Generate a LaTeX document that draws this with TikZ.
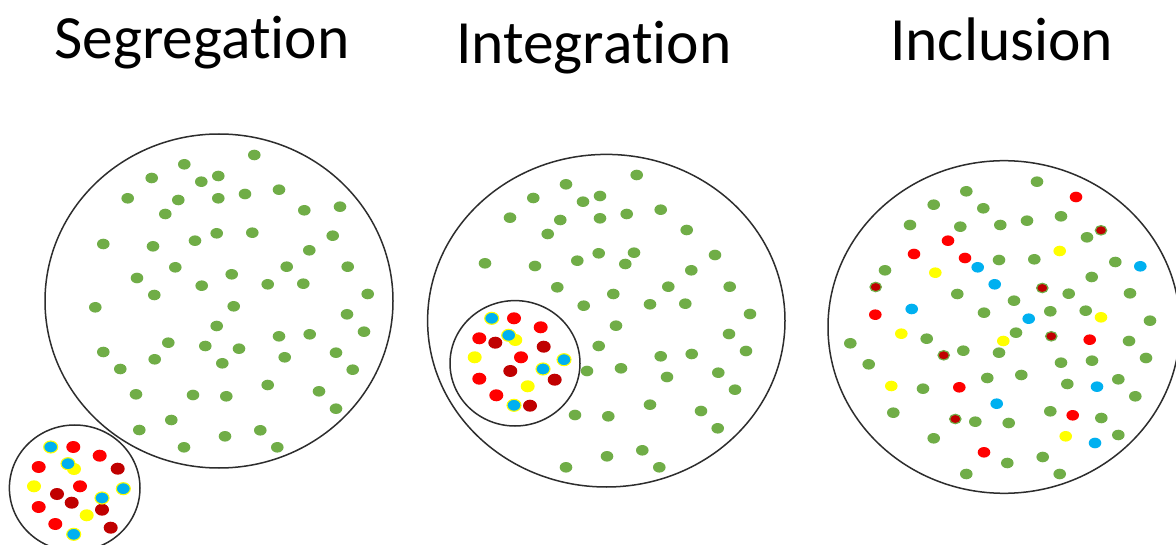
\documentclass[tikz,border=0pt]{standalone}
\usepackage{fontspec}
\setmainfont[Ligatures=NoCommon]{Carlito}
\definecolor{pgreen}{RGB}{112,173,71}
\definecolor{pred}{RGB}{255,0,0}
\definecolor{pdark}{RGB}{192,0,0}
\definecolor{pyellow}{RGB}{255,255,0}
\definecolor{pcyan}{RGB}{0,176,240}
\definecolor{rim}{RGB}{45,45,45}
\tikzset{
  title/.style={font=\fontsize{61.5}{70}\selectfont, inner sep=0pt, anchor=base west},
  group/.style={draw=rim, line width=1.5pt, fill=white},
}
% a small filled ellipse ("person") at a given point
\newcommand{\person}[3][]{\fill[#2,#1] #3 ellipse [x radius=6.3pt, y radius=5.3pt];}
\newcommand{\bigperson}[3][]{\path[fill=#2,#1] #3 ellipse [x radius=7pt, y radius=6pt];}
\begin{document}
\begin{tikzpicture}[x=1pt,y=-1pt]
\useasboundingbox (0,0) rectangle (1176,545);
\clip (0,0) rectangle (1176,545);
\fill[white] (0,0) rectangle (1176,545);

% titles
\node[title] (tseg) at (54,58.5) {Segregation};
\node[title] (tint) at (456,63.5) {Integration};
\node[title] (tinc) at (890,61) {Inclusion};

% ---------- Segregation ----------
\draw[group] (219,301) ellipse [x radius=174pt, y radius=167pt];
\foreach \p in {(254.3,155),(184.3,164.3),(151.7,178),(201.3,181.7),(218.3,176),
  (127.7,198.3),(178.3,200),(218.3,198.3),(245,194),(279,189.7),(165.3,214),
  (304.3,210.3),(340,206.7),(103.3,244),(153,246.3),(195,240.7),(216.7,233.3),
  (252.3,232.7),(332.7,235.7),(309.3,250.3),(175.3,267.3),(137,278),(231.7,274.3),
  (201.7,285.7),(286.7,266.7),(267.7,284.3),(303.3,283.7),(347.7,266.7),(154.3,295),
  (367.7,294),(95.3,307.3),(233.7,306.3),(347,314.3),(216.7,326),(364,331.7),
  (103.3,352),(168.3,342.7),(205.3,346),(239,348.7),(279,336.3),(309.7,334.3),
  (336,352.7),(154.7,359.3),(222.3,363.3),(284.7,357.3),(120.3,369),(352.7,369.7),
  (267.7,385),(136,394.3),(193,395),(226.3,396.3),(319,391.3),(336,408.7),
  (171.3,420),(139.3,430),(225,436.3),(260.3,430.3),(184,447.3),(277.3,447.3)}
  {\person{pgreen}{\p}}

\draw[group] (74.7,488) ellipse [x radius=65.3pt, y radius=63pt];
\foreach \p in {(73.3,447),(99.7,455.7),(38.7,467),(80,486.3),(38.7,507),(55.3,524)}
  {\bigperson{pred}{\p}}
\foreach \p in {(117.7,468.7),(57,494),(71.7,502.7),(102,509.7),(110.7,527.7)}
  {\bigperson{pdark}{\p}}
\foreach \p in {(74,469),(34,486.3),(86.7,515.3)}
  {\bigperson{pyellow}{\p}}
\foreach \p in {(50.7,447),(68,463.7),(123.3,488.7),(102,498),(73.7,534.3)}
  {\bigperson[draw=pyellow,line width=1.1pt]{pcyan}{\p}}

% ---------- Integration ----------
\draw[group] (606.3,320.7) ellipse [x radius=178.7pt, y radius=166.3pt];
\foreach \p in {(636.7,175),(566,184.3),(533.3,198),(583,201.7),(600,196),
  (510,217.7),(560.3,220),(600,218.3),(626.7,214),(660.7,209.7),(547.7,234),
  (686.7,230),(485,263.3),(535,266),(577.3,260.7),(598.7,253.3),(634,252.7),
  (625.3,264),(715,255),(691.3,270.3),(557.3,287.3),(613.3,294),(583.7,305.7),
  (668.3,286.7),(650,304.3),(685.3,303.7),(729.7,286.7),(750,314),(616,325.7),
  (729,334),(598.7,346),(746,351),(587,371),(621,368.3),(660.7,356.3),
  (691.7,354),(718.3,372.7),(667,377),(735,389.7),(650,404.7),(575,415),
  (608.3,416.3),(701,411),(717.7,428.3),(607,456.3),(642.3,450.3),(566,467.3),
  (659.3,467.3)}
  {\person{pgreen}{\p}}

\draw[group] (515,363.3) ellipse [x radius=65pt, y radius=62.7pt];
\foreach \p in {(514,318.3),(540.7,327.3),(479.3,338.3),(521,357.3),(479.3,378.7),(496.3,395.3)}
  {\bigperson{pred}{\p}}
\foreach \p in {(495.3,342.7),(543.7,346.7),(510.3,371),(554.7,379.7),(530,405.7)}
  {\bigperson{pdark}{\p}}
\foreach \p in {(515.3,340),(474.7,357.3),(527.7,386.3)}
  {\bigperson{pyellow}{\p}}
\foreach \p in {(491.7,318.3),(508.7,335.3),(564,359.7),(543,369),(514,405.3)}
  {\bigperson[draw=pyellow,line width=1.1pt]{pcyan}{\p}}

% ---------- Inclusion ----------
\draw[group] (1004,327) ellipse [x radius=176pt, y radius=166.3pt];
\foreach \p in {(1037,181.7),(966.3,191.3),(933.7,204.7),(983.3,208.3),(910,225),
  (960.3,226.7),(1000.3,225),(1027,220.7),(1061,216.3),(1087,237.3),(999,260),
  (1034.3,259.3),(1115.3,262),(885,270.3),(1091.7,277),(957.3,294),(1014,300.7),
  (1068.7,293.7),(1130,293.3),(984,312.7),(1050.3,311.3),(1085.7,310.7),(1150,320.7),
  (850.3,343.3),(926.7,338.7),(1016,332.7),(1129,341),(868.7,364.3),(963.3,350.7),
  (999,352.7),(1061,362.7),(1092,360.7),(1146,358),(923,388.7),(987.3,378),
  (1021.3,375),(1067.3,384),(1118.3,379.3),(1135.3,396.3),(893.3,412.7),
  (975.3,421.7),(1008.7,423),(1050.3,411.3),(1101.3,418),(933.7,438.3),
  (1118.3,435),(1007.3,463),(1042.7,457),(966.3,474),(1059.7,474)}
  {\person{pgreen}{\p}}
\foreach \p in {(1076,197),(948,240.7),(914,254),(965,258),(875.3,314.7),
  (1089.7,339.7),(959.3,387.3),(1072.7,415.3),(984,452.3)}
  {\person{pred}{\p}}
\foreach \p in {(1101,230.3),(875.7,287),(1042.3,288),(1051.3,336.3),(943.7,355.3),(955.3,419)}
  {\path[fill=pdark,draw=pgreen,line width=1.2pt] \p ellipse [x radius=5.7pt, y radius=4.7pt];}
\foreach \p in {(1059.7,251),(935.3,272.7),(1101,317.3),(901.3,333.7),(1003.3,341),
  (891.3,386),(1065.7,436.3)}
  {\person{pyellow}{\p}}
\foreach \p in {(1140.3,266.3),(977.7,267.3),(994.7,284.3),(911.7,309),(1028.7,318.7),
  (1097,386.7),(996.7,403.7),(1095,443)}
  {\person{pcyan}{\p}}
\end{tikzpicture}
\end{document}
